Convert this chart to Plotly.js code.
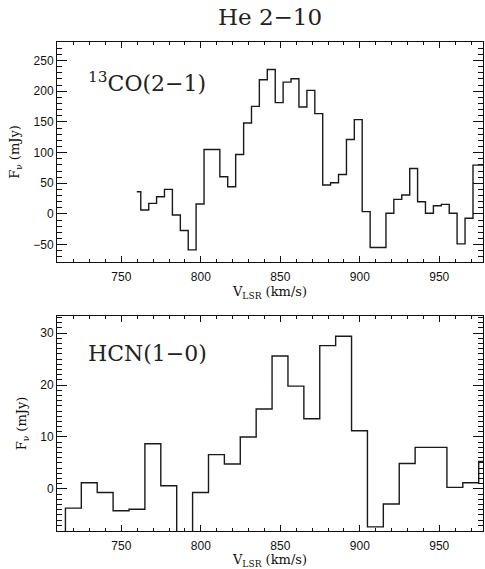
<!DOCTYPE html>
<html>
<head>
<meta charset="utf-8">
<script src="https://cdn.plot.ly/plotly-3.0.1.min.js"></script>
<style>
  html, body { margin: 0; padding: 0; background: #fff; }
  #chart { width: 485px; height: 569px; }
</style>
</head>
<body>
<div id="chart"></div>
<script>
// 13CO(2-1) spectrum: channel centres (km/s) and flux densities (mJy)
const coVelocity = [
  759.7, 764.7, 769.7, 774.6, 779.6, 784.6, 789.6, 794.5, 799.5, 804.5,
  809.5, 814.4, 819.4, 824.4, 829.4, 834.3, 839.3, 844.3, 849.3, 854.2,
  859.2, 864.2, 869.2, 874.2, 879.1, 884.1, 889.1, 894.1, 899.0, 904.0,
  909.0, 914.0, 918.9, 923.9, 928.9, 933.9, 938.8, 943.8, 948.8, 953.8,
  958.7, 963.7, 968.7, 973.7, 978.6
];
const coFlux = [
  36.3, 6.5, 17.3, 28.1, 40.0, -1.6, -27.0, -58.4, 16.2, 105.0,
  105.0, 60.6, 44.4, 96.9, 148.3, 175.3, 218.6, 235.4, 181.3, 214.8,
  220.2, 174.2, 201.3, 163.4, 47.1, 50.9, 64.4, 121.2, 153.7, 3.8,
  -54.7, -54.7, 1.1, 23.8, 30.8, 74.1, 20.0, 1.1, 13.5, 15.7,
  1.1, -48.7, -7.0, 79.5, 79.5
];

// HCN(1-0) spectrum: channel centres (km/s) and flux densities (mJy)
const hcnVelocity = [
  709.8, 719.8, 729.8, 739.8, 749.8, 759.8, 769.8, 779.8, 789.8, 799.8,
  809.8, 819.8, 829.8, 839.8, 849.8, 859.8, 869.8, 879.8, 889.8, 899.8,
  909.8, 919.8, 929.8, 939.8, 949.8, 959.8, 969.8, 979.8
];
const hcnFlux = [
  -10.0, -3.7, 1.2, -0.7, -4.2, -3.9, 8.7, 0.6, -10.0, -0.7,
  6.6, 4.8, 10.0, 15.4, 25.6, 19.8, 13.5, 27.6, 29.4, 11.2,
  -7.3, -2.9, 4.9, 8.0, 8.0, 0.3, 1.2, 5.3
];

const chartTitle = 'He 2\u221210';
const coLabel = '<sup>13</sup>CO(2\u22121)';
const hcnLabel = 'HCN(1\u22120)';
const xTitle = 'V<sub>LSR</sub> (km/s)';
const yTitle = 'F<sub>\u03bd</sub> (mJy)';

const velRange = [709.5, 977.5];
const coRange = [-78.2, 280.1];
const hcnRange = [-8.1, 33.3];

const ink = '#111';
const tickFont = { family: 'Liberation Sans, Arial, sans-serif', size: 12, color: ink };
const titleFont = { family: 'DejaVu Serif, serif', size: 13, color: ink };

function xAxis(anchor) {
  return {
    anchor: anchor,
    range: velRange,
    tick0: 0, dtick: 50,
    ticks: 'inside', ticklen: 6, tickwidth: 1, tickcolor: ink,
    minor: { ticks: 'inside', dtick: 10, ticklen: 3, tickwidth: 1, tickcolor: ink },
    mirror: 'allticks', showline: true, linecolor: ink, linewidth: 1,
    showgrid: false, zeroline: false,
    tickfont: tickFont,
    ticklabelstandoff: 4,
    title: { text: xTitle, font: titleFont, standoff: 0 },
    automargin: false
  };
}

function yAxis(anchor, domain, range, major, minor) {
  return {
    anchor: anchor,
    domain: domain,
    range: range,
    tick0: 0, dtick: major,
    ticks: 'inside', ticklen: 10, tickwidth: 1, tickcolor: ink,
    minor: { ticks: 'inside', dtick: minor, ticklen: 5, tickwidth: 1, tickcolor: ink },
    mirror: 'allticks', showline: true, linecolor: ink, linewidth: 1,
    showgrid: false, zeroline: false,
    tickfont: tickFont,
    title: { text: yTitle, font: titleFont, standoff: 10 },
    automargin: false
  };
}

const lineStyle = { shape: 'hvh', color: '#1a1a1a', width: 1.4 };

const traces = [
  { x: coVelocity, y: coFlux, xaxis: 'x', yaxis: 'y', type: 'scatter', mode: 'lines', line: lineStyle, hoverinfo: 'skip' },
  { x: hcnVelocity, y: hcnFlux, xaxis: 'x2', yaxis: 'y2', type: 'scatter', mode: 'lines', line: lineStyle, hoverinfo: 'skip' }
];

const layout = {
  width: 485, height: 569,
  margin: { l: 57, r: 2, t: 42, b: 38 },
  paper_bgcolor: '#fff', plot_bgcolor: '#fff',
  showlegend: false,
  title: {
    text: chartTitle,
    font: { family: 'DejaVu Serif, serif', size: 23, color: '#222' },
    x: 0.5, xref: 'paper',
    y: 0.97, yref: 'container', yanchor: 'middle'
  },
  xaxis: xAxis('y'),
  yaxis: yAxis('x', [0.5501, 1], coRange, 50, 10),
  xaxis2: xAxis('y2'),
  yaxis2: yAxis('x2', [0, 0.4397], hcnRange, 10, 1),
  annotations: [
    { text: coLabel, xref: 'x domain', yref: 'y domain', x: 0.068, y: 0.818,
      xanchor: 'left', yanchor: 'middle', showarrow: false,
      font: { family: 'DejaVu Serif, serif', size: 22, color: '#222' } },
    { text: hcnLabel, xref: 'x2 domain', yref: 'y2 domain', x: 0.068, y: 0.826,
      xanchor: 'left', yanchor: 'middle', showarrow: false,
      font: { family: 'DejaVu Serif, serif', size: 22, color: '#222' } }
  ]
};

Plotly.newPlot('chart', traces, layout, { staticPlot: true, displayModeBar: false });
</script>
</body>
</html>
